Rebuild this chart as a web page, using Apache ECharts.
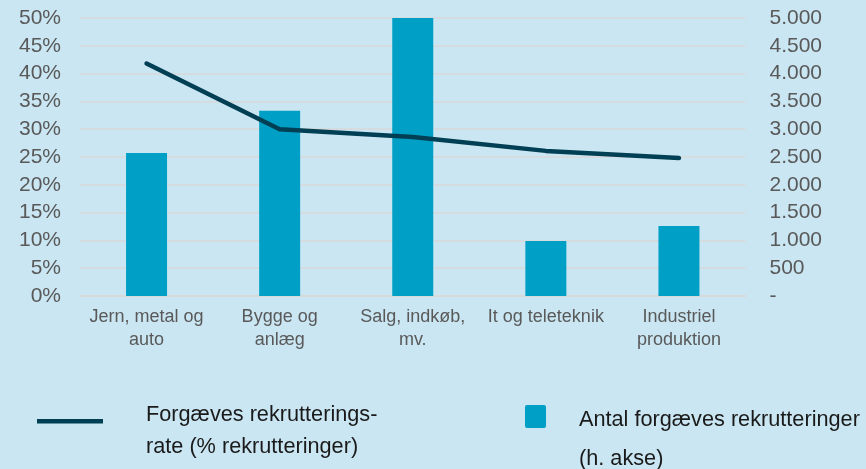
<!DOCTYPE html>
<html>
<head>
<meta charset="utf-8">
<script src="https://cdn.jsdelivr.net/npm/echarts@6/dist/echarts.min.js"></script>
<style>
html,body{margin:0;padding:0;background:#cae6f2;}
#c{width:866px;height:469px;}
</style>
</head>
<body>
<div id="c"></div>
<script>
const categories = ['Jern, metal og\nauto', 'Bygge og\nanlæg', 'Salg, indkøb,\nmv.', 'It og teleteknik', 'Industriel\nproduktion'];
const rateValues = [41.8, 30.0, 28.6, 26.1, 24.8];
const countValues = [2570, 3330, 5000, 990, 1260];
const lineName = 'Forgæves rekrutterings-\nrate (% rekrutteringer)';
const barName = 'Antal forgæves rekrutteringer\n(h. akse)';

const FONT = '"Liberation Sans", Arial, sans-serif';
const LINE_COLOR = '#003f54';
const BAR_COLOR = '#00a0c6';
const chart = echarts.init(document.getElementById('c'));
chart.setOption({
  backgroundColor: '#cae6f2',
  animation: false,
  grid: {left: 80, right: 120.5, top: 18, bottom: 173},
  graphic: [
    {type: 'rect', left: 37, top: 419, shape: {width: 66, height: 4.5}, style: {fill: LINE_COLOR}},
    {type: 'text', left: 146, top: 399, style: {text: lineName, font: '21.7px ' + FONT, fill: '#1a1a1a', lineHeight: 32}},
    {type: 'rect', left: 525, top: 405, shape: {width: 21, height: 23, r: 2}, style: {fill: BAR_COLOR}},
    {type: 'text', left: 579, top: 401, style: {text: barName, font: '21.7px ' + FONT, fill: '#1a1a1a', lineHeight: 39}}
  ],
  xAxis: {
    type: 'category',
    data: categories,
    axisLine: {show: true, lineStyle: {color: '#d9d9d9', width: 1.5}},
    axisTick: {show: false},
    axisLabel: {fontFamily: FONT, fontSize: 18, color: '#595959', lineHeight: 23, margin: 10, interval: 0}
  },
  yAxis: [
    {
      type: 'value', min: 0, max: 50, interval: 5,
      axisLine: {show: false}, axisTick: {show: false},
      splitLine: {lineStyle: {color: '#d9d9d9', width: 1.5}},
      axisLabel: {fontFamily: FONT, fontSize: 21, color: '#595959', margin: 19, formatter: '{value}%'}
    },
    {
      type: 'value', min: 0, max: 5000, interval: 500,
      axisLine: {show: false}, axisTick: {show: false},
      splitLine: {show: false},
      axisLabel: {
        fontFamily: FONT, fontSize: 21, color: '#595959', margin: 24,
        formatter: v => v === 0 ? '-' : String(v).replace(/\B(?=(\d{3})+(?!\d))/g, '.')
      }
    }
  ],
  series: [
    {
      name: barName, type: 'bar', yAxisIndex: 1, data: countValues,
      barWidth: 41, itemStyle: {color: BAR_COLOR}, z: 2
    },
    {
      name: lineName, type: 'line', yAxisIndex: 0, data: rateValues,
      showSymbol: false, symbol: 'none',
      lineStyle: {color: LINE_COLOR, width: 4.5, cap: 'round', join: 'round'},
      itemStyle: {color: LINE_COLOR}, z: 3
    }
  ]
});
</script>
</body>
</html>
